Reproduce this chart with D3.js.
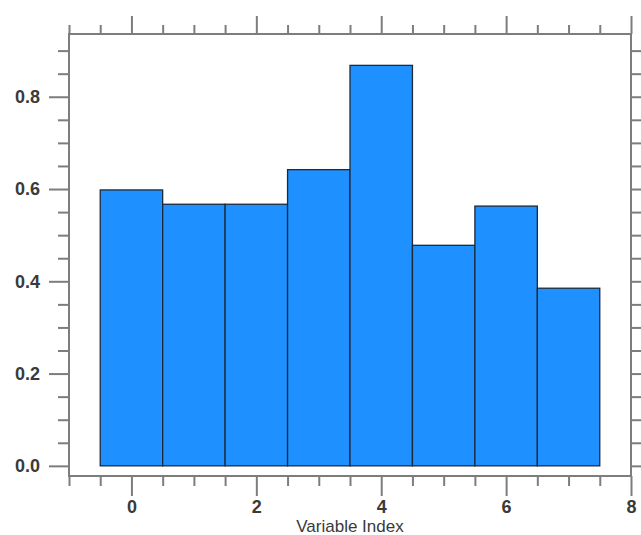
<!DOCTYPE html>
<html>
<head>
<meta charset="utf-8">
<script src="https://cdn.jsdelivr.net/npm/d3@7"></script>
<style>
  body { margin: 0; background: #fff; }
  svg { display: block; }
  .lbl { font-family: "Liberation Sans", Arial, sans-serif; fill: #3a3a3a; }
</style>
</head>
<body>
<script>
  // data
  var indices = [0, 1, 2, 3, 4, 5, 6, 7];
  var values = [0.598, 0.567, 0.567, 0.642, 0.868, 0.478, 0.563, 0.385];

  var xMajor = [0, 2, 4, 6, 8];
  var xMinor = [-1, -0.5, 0.5, 1, 1.5, 2.5, 3, 3.5, 4.5, 5, 5.5, 6.5, 7, 7.5];
  var yMajor = [0, 0.2, 0.4, 0.6, 0.8];
  var yMajorLabels = ["0.0", "0.2", "0.4", "0.6", "0.8"];
  var yMinor = [0.05, 0.1, 0.15, 0.25, 0.3, 0.35, 0.45, 0.5, 0.55, 0.65, 0.7, 0.75, 0.85, 0.9];

  // plot frame (note: "top" is reserved on window, so use px* names)
  var pxLeft = 69, pxRight = 631, pxTop = 34, pxBottom = 476;
  var axisColor = "#7d7d7d";

  var svg = d3.select("body").append("svg")
      .attr("width", 641)
      .attr("height", 535)

  var x = d3.scaleLinear().domain([-1, 8]).range([pxLeft, pxRight]);
  var y = d3.scaleLinear().domain([-0.022, 0.936]).range([pxBottom, pxTop]);

  // bars
  svg.append("g").selectAll("rect")
    .data(indices)
    .enter()
    .append("rect")
    .attr("x", function(d) { return x(d - 0.5) })
    .attr("width", function(d) { return x(d + 0.5) - x(d - 0.5) })
    .attr("y", function(d, i) { return y(values[i]) })
    .attr("height", function(d, i) { return y(0) - y(values[i]) })
    .attr("fill", "#1e90ff")
    .attr("stroke", "#1c2a3a")
    .attr("stroke-width", 1.3)

  // axes, ticks outward on all four sides
  function styleAxis(g) {
    g.select(".domain").remove();
    g.selectAll(".tick line").attr("stroke", axisColor).attr("stroke-width", 2);
    g.selectAll(".tick text").attr("class", "lbl")
      .style("font-size", "18px").style("font-weight", "bold");
  }

  svg.append("g").attr("transform", "translate(0," + pxBottom + ")")
    .call(d3.axisBottom(x).tickValues(xMajor).tickSize(20).tickPadding(4).tickFormat(d3.format("d")))
    .call(styleAxis)
  svg.append("g").attr("transform", "translate(0," + pxBottom + ")")
    .call(d3.axisBottom(x).tickValues(xMinor).tickSize(10).tickFormat(""))
    .call(styleAxis)

  svg.append("g").attr("transform", "translate(0," + pxTop + ")")
    .call(d3.axisTop(x).tickValues(xMajor).tickSize(18).tickFormat(""))
    .call(styleAxis)
  svg.append("g").attr("transform", "translate(0," + pxTop + ")")
    .call(d3.axisTop(x).tickValues(xMinor).tickSize(9).tickFormat(""))
    .call(styleAxis)

  svg.append("g").attr("transform", "translate(" + pxLeft + ",0)")
    .call(d3.axisLeft(y).tickValues(yMajor).tickSize(20).tickPadding(9)
      .tickFormat(function(d, i) { return yMajorLabels[i] }))
    .call(styleAxis)
  svg.append("g").attr("transform", "translate(" + pxLeft + ",0)")
    .call(d3.axisLeft(y).tickValues(yMinor).tickSize(11).tickFormat(""))
    .call(styleAxis)

  svg.append("g").attr("transform", "translate(" + pxRight + ",0)")
    .call(d3.axisRight(y).tickValues(yMajor).tickSize(20).tickFormat(""))
    .call(styleAxis)
  svg.append("g").attr("transform", "translate(" + pxRight + ",0)")
    .call(d3.axisRight(y).tickValues(yMinor).tickSize(11).tickFormat(""))
    .call(styleAxis)

  // frame
  svg.append("rect")
    .attr("x", pxLeft).attr("y", pxTop)
    .attr("width", pxRight - pxLeft).attr("height", pxBottom - pxTop)
    .attr("fill", "none")
    .attr("stroke", axisColor)
    .attr("stroke-width", 2)

  svg.append("text")
    .attr("class", "lbl")
    .attr("x", (pxLeft + pxRight) / 2)
    .attr("y", 532)
    .attr("text-anchor", "middle")
    .style("font-size", "17px")
    .text("Variable Index")
</script>
</body>
</html>
